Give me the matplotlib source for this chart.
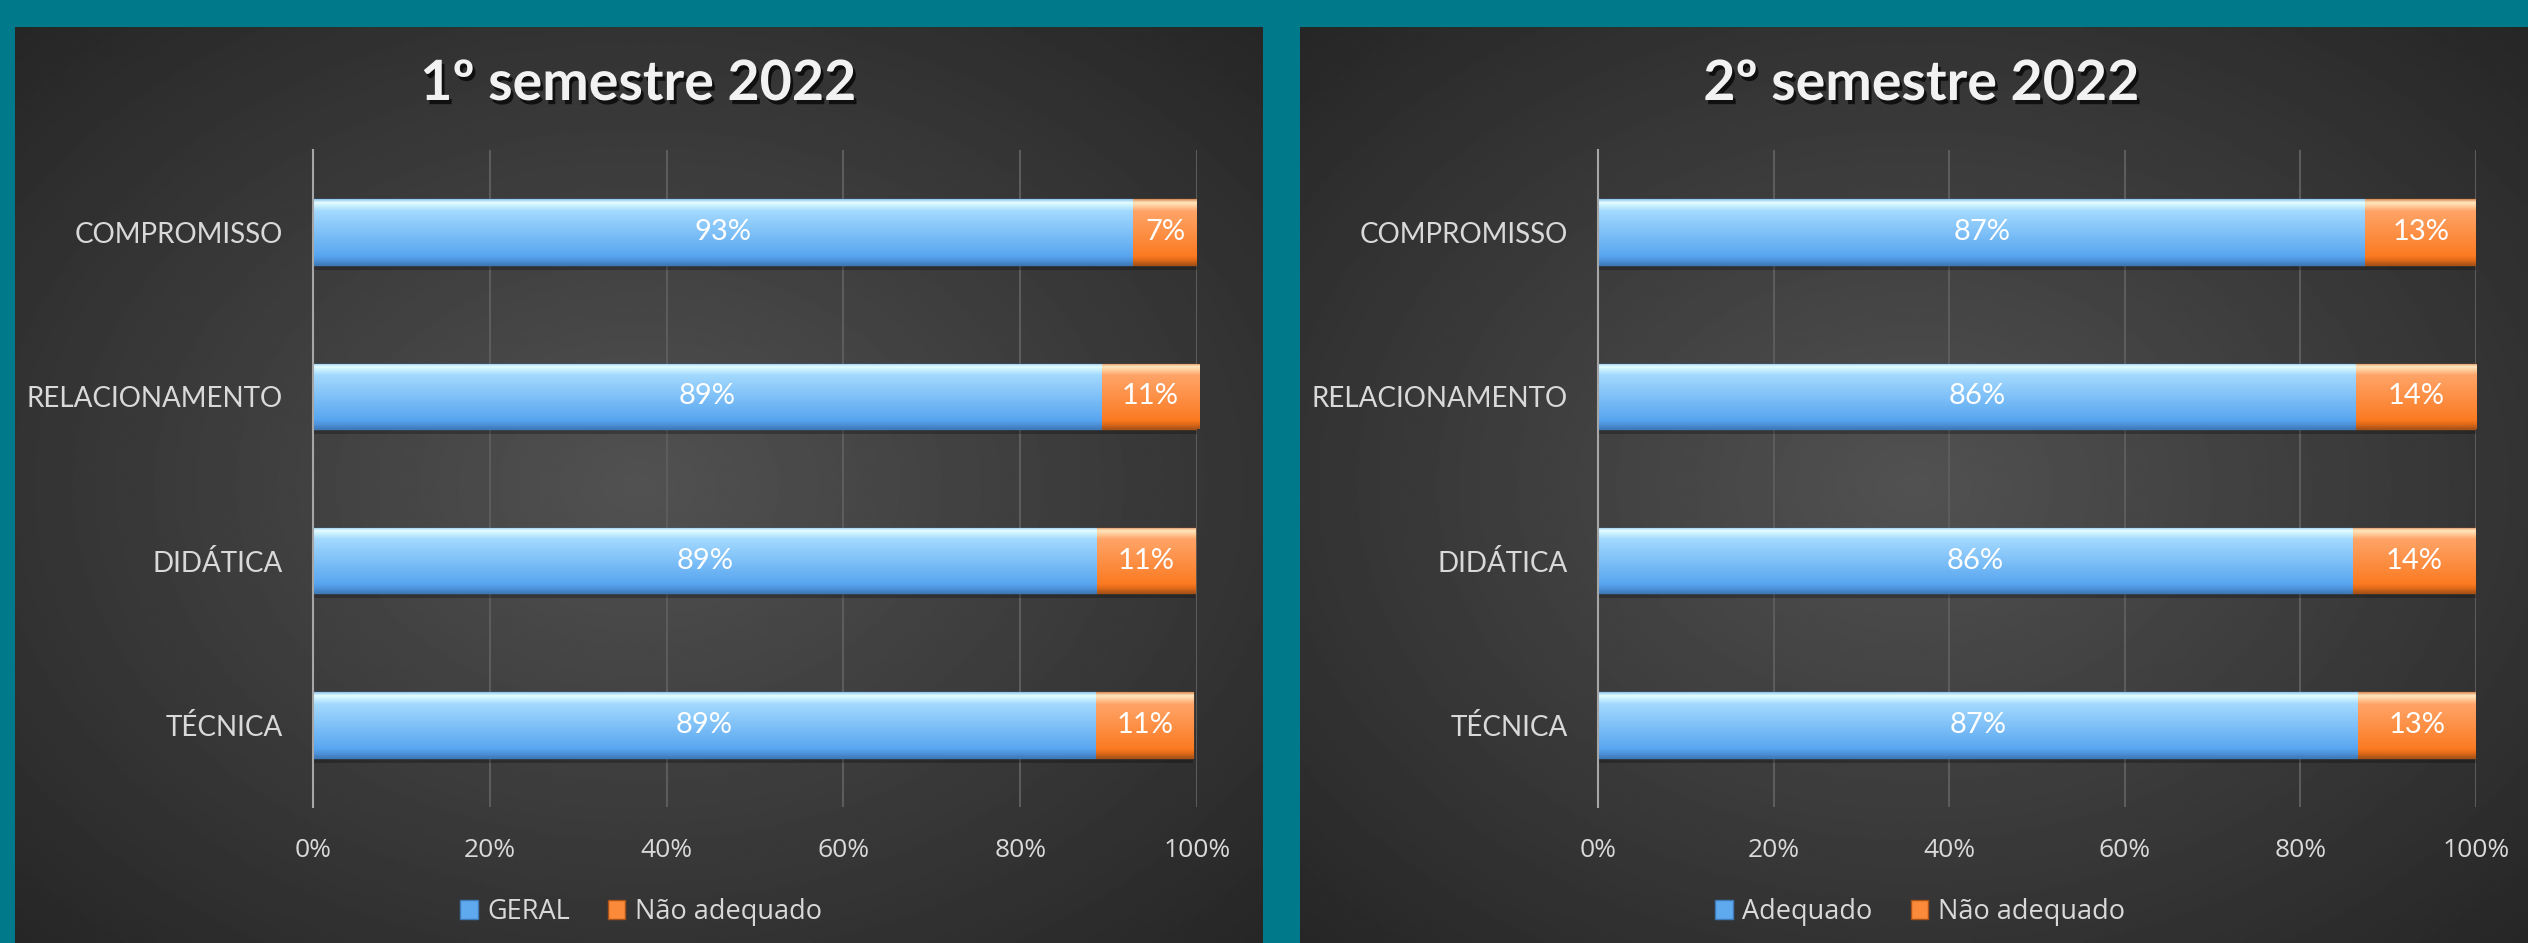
import numpy as np
import matplotlib
matplotlib.use('Agg')
import matplotlib.pyplot as plt
import matplotlib.patheffects as pe
from matplotlib.colors import LinearSegmentedColormap
from matplotlib.patches import Patch

# Data (bottom to top, as Excel draws them)
categories = ['TÉCNICA', 'DIDÁTICA', 'RELACIONAMENTO', 'COMPROMISSO']
sem1_ok = [88.6, 88.7, 89.2, 92.8]
sem1_not = [11.0, 11.1, 11.0, 7.2]
sem2_ok = [86.6, 86.0, 86.3, 87.4]
sem2_not = [13.4, 14.0, 13.7, 12.6]
titles = ['1º semestre 2022', '2º semestre 2022']
legend1 = ['GERAL', 'Não adequado']
legend2 = ['Adequado', 'Não adequado']
xticks = [0, 20, 40, 60, 80, 100]

W, H = 2528, 943
TEAL = '#007a8a'
TXT = '#d9d9d9'


def px_rect(x0, y0, x1, y1):
    # pixel box (top-left origin) -> figure fraction rect
    return [x0 / W, 1 - y1 / H, (x1 - x0) / W, (y1 - y0) / H]


blue_cmap = LinearSegmentedColormap.from_list('blue', [
    (0.0, '#3f7ab8'), (0.07, '#4d93db'), (0.14, '#58a6f0'),
    (0.82, '#a3d9fe'), (0.90, '#c9f1ff'), (0.95, '#e6fdff'), (1.0, '#8cc3ea')])
orange_cmap = LinearSegmentedColormap.from_list('orange', [
    (0.0, '#a85218'), (0.07, '#e06a18'), (0.14, '#fb7b22'),
    (0.82, '#ffa468'), (0.90, '#ffd0a0'), (0.95, '#ffe6c0'), (1.0, '#d88a55')])


def panel_bg(rect):
    bg = fig.add_axes(rect, zorder=0)
    yy, xx = np.mgrid[-1:1:300j, -1:1:600j]
    r = np.sqrt(xx ** 2 + yy ** 2) / np.sqrt(2)
    c = 0.32 - 0.17 * r
    bg.imshow(c, cmap='gray', vmin=0, vmax=1, aspect='auto',
              extent=(0, 1, 0, 1), interpolation='bilinear')
    bg.axis('off')


def gradient_bars(ax, bars, cmap):
    grad = np.linspace(0, 1, 256).reshape(-1, 1)
    for b in bars:
        x, y, w, h = b.get_x(), b.get_y(), b.get_width(), b.get_height()
        im = ax.imshow(grad, cmap=cmap, origin='lower', aspect='auto',
                       extent=(x, x + w, y, y + h), zorder=3,
                       interpolation='bilinear')
        im.set_clip_path(b)


def draw_chart(rect, ok, notok, title, labels, title_x, legend_x):
    ax = fig.add_axes(rect, zorder=1)
    ax.set_facecolor('none')
    y = np.arange(len(categories))
    ok = np.array(ok)
    notok = np.array(notok)

    # soft shadow under the bars
    ax.barh(y - 0.03, ok + notok, height=0.4, color='black', alpha=0.25,
            zorder=2, linewidth=0)
    b1 = ax.barh(y, ok, height=0.4, color='#6db5f4', edgecolor='#3f7ab8',
                 linewidth=1, zorder=3)
    b2 = ax.barh(y, notok, left=ok, height=0.4, color='#fb8a3a',
                 edgecolor='#a85218', linewidth=1, zorder=3)
    gradient_bars(ax, b1, blue_cmap)
    gradient_bars(ax, b2, orange_cmap)

    for yi, a, b in zip(y, ok, notok):
        ax.text(a / 2, yi, f'{a:.0f}%', ha='center', va='center',
                color='white', fontsize=21, fontfamily='Lato', zorder=5)
        ax.text(a + b / 2, yi, f'{b:.0f}%', ha='center', va='center',
                color='white', fontsize=21, fontfamily='Lato', zorder=5)

    ax.set_xlim(0, 100)
    ax.set_ylim(-0.5, len(categories) - 0.5)
    ax.set_xticks(xticks)
    ax.set_xticklabels([f'{t}%' for t in xticks], fontfamily='Open Sans',
                       fontsize=19, color=TXT)
    ax.set_yticks(y)
    ax.set_yticklabels(categories, fontfamily='Lato', fontsize=20, color=TXT)
    ax.tick_params(axis='x', length=0, pad=22)
    ax.tick_params(axis='y', length=0, pad=22)
    ax.set_axisbelow(True)
    ax.xaxis.grid(True, color='#5c5c5c', linewidth=1.5)
    for s in ['top', 'right', 'bottom']:
        ax.spines[s].set_visible(False)
    ax.spines['left'].set_color('#a6a6a6')
    ax.spines['left'].set_linewidth(1.5)
    ax.spines['left'].set_zorder(4)

    fig.text(title_x / W, 1 - 84 / H, title, ha='center', va='center',
             fontfamily='Lato', fontweight='bold', fontsize=40,
             color='#f2f2f2',
             path_effects=[pe.SimplePatchShadow(offset=(2, -3),
                                                shadow_rgbFace='black',
                                                alpha=0.7),
                           pe.Normal()])

    handles = [Patch(facecolor='#5fa9ee', edgecolor='#3f7ab8'),
               Patch(facecolor='#fb8a3a', edgecolor='#a85218')]
    fig.legend(handles, labels, loc='center',
               bbox_to_anchor=(legend_x / W, 1 - 912 / H), ncol=2,
               frameon=False, prop={'family': 'Open Sans', 'size': 19.5},
               labelcolor=TXT, handlelength=0.65, handleheight=0.65,
               handletextpad=0.35, columnspacing=1.4)


fig = plt.figure(figsize=(W / 100, H / 100), dpi=100, facecolor=TEAL)

panel_bg(px_rect(15, 27, 1263, 943))
panel_bg(px_rect(1300, 27, 2528, 943))

draw_chart(px_rect(313, 150, 1197, 807), sem1_ok, sem1_not, titles[0],
           legend1, 638, 641)
draw_chart(px_rect(1598, 150, 2476, 807), sem2_ok, sem2_not, titles[1],
           legend2, 1921, 1920)

fig.savefig('out.png', dpi=100, facecolor=TEAL)
